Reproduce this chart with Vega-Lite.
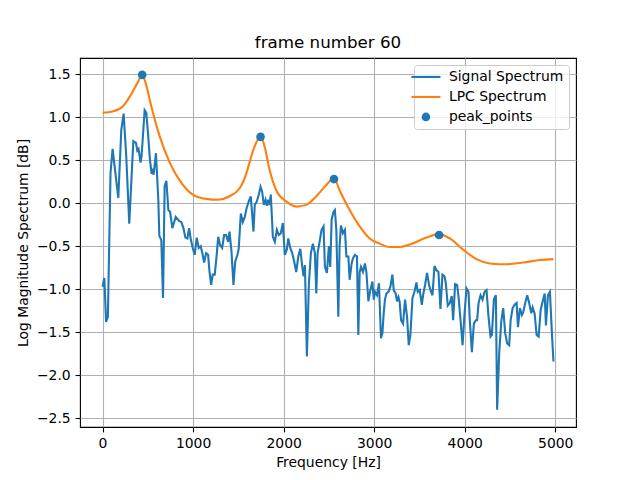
{
  "$schema": "https://vega.github.io/schema/vega-lite/v6.json",
  "width": 496,
  "height": 369,
  "autosize": {"type": "none"},
  "padding": {"left": 80, "top": 58, "right": 64, "bottom": 53},
  "background": "white",
  "title": {
    "text": "frame number 60",
    "font": "DejaVu Sans",
    "fontSize": 16.7,
    "fontWeight": "normal",
    "color": "black",
    "anchor": "middle",
    "frame": "group",
    "baseline": "bottom",
    "offset": 5,
    "dy": 16
  },
  "config": {
    "view": {"stroke": "black", "strokeWidth": 1.1},
    "axis": {
      "labelFont": "DejaVu Sans",
      "labelFontSize": 13.9,
      "labelColor": "black",
      "titleFont": "DejaVu Sans",
      "titleFontSize": 13.9,
      "titleFontWeight": "normal",
      "titleColor": "black",
      "tickColor": "black",
      "tickSize": 4.9,
      "tickWidth": 1.1,
      "labelPadding": 4.9,
      "gridColor": "#b0b0b0",
      "gridWidth": 1.1,
      "domain": false
    },
    "legend": {
      "orient": "none",
      "legendX": 334,
      "legendY": 7,
      "fillColor": "rgba(255,255,255,0.8)",
      "strokeColor": "#cccccc",
      "cornerRadius": 3,
      "padding": 5,
      "labelFont": "DejaVu Sans",
      "labelFontSize": 13.9,
      "labelColor": "black",
      "labelOffset": 16,
      "symbolType": "stroke",
      "symbolSize": 841,
      "symbolStrokeWidth": 2.1,
      "rowPadding": 5
    }
  },
  "data": {
    "values": [
      {"series": "Signal Spectrum", "f": 0, "v": -0.97},
      {"series": "Signal Spectrum", "f": 20, "v": -0.87},
      {"series": "Signal Spectrum", "f": 39, "v": -1.38},
      {"series": "Signal Spectrum", "f": 59, "v": -1.32},
      {"series": "Signal Spectrum", "f": 88, "v": 0.35},
      {"series": "Signal Spectrum", "f": 111, "v": 0.63},
      {"series": "Signal Spectrum", "f": 133, "v": 0.43},
      {"series": "Signal Spectrum", "f": 174, "v": 0.06},
      {"series": "Signal Spectrum", "f": 207, "v": 0.85},
      {"series": "Signal Spectrum", "f": 233, "v": 1.04},
      {"series": "Signal Spectrum", "f": 262, "v": 0.54},
      {"series": "Signal Spectrum", "f": 295, "v": -0.24},
      {"series": "Signal Spectrum", "f": 340, "v": 0.72},
      {"series": "Signal Spectrum", "f": 369, "v": 0.70},
      {"series": "Signal Spectrum", "f": 384, "v": 0.61},
      {"series": "Signal Spectrum", "f": 398, "v": 0.63},
      {"series": "Signal Spectrum", "f": 420, "v": 0.47},
      {"series": "Signal Spectrum", "f": 431, "v": 0.55},
      {"series": "Signal Spectrum", "f": 465, "v": 1.08},
      {"series": "Signal Spectrum", "f": 483, "v": 1.05},
      {"series": "Signal Spectrum", "f": 502, "v": 0.81},
      {"series": "Signal Spectrum", "f": 524, "v": 0.50},
      {"series": "Signal Spectrum", "f": 542, "v": 0.34},
      {"series": "Signal Spectrum", "f": 553, "v": 0.40},
      {"series": "Signal Spectrum", "f": 564, "v": 0.33},
      {"series": "Signal Spectrum", "f": 590, "v": 0.58},
      {"series": "Signal Spectrum", "f": 616, "v": 0.04},
      {"series": "Signal Spectrum", "f": 627, "v": -0.38},
      {"series": "Signal Spectrum", "f": 649, "v": -0.43},
      {"series": "Signal Spectrum", "f": 668, "v": -1.10},
      {"series": "Signal Spectrum", "f": 686, "v": 0.20},
      {"series": "Signal Spectrum", "f": 705, "v": 0.26},
      {"series": "Signal Spectrum", "f": 727, "v": -0.08},
      {"series": "Signal Spectrum", "f": 746, "v": -0.10},
      {"series": "Signal Spectrum", "f": 771, "v": -0.29},
      {"series": "Signal Spectrum", "f": 808, "v": -0.16},
      {"series": "Signal Spectrum", "f": 848, "v": -0.21},
      {"series": "Signal Spectrum", "f": 871, "v": -0.22},
      {"series": "Signal Spectrum", "f": 893, "v": -0.29},
      {"series": "Signal Spectrum", "f": 915, "v": -0.40},
      {"series": "Signal Spectrum", "f": 937, "v": -0.41},
      {"series": "Signal Spectrum", "f": 956, "v": -0.29},
      {"series": "Signal Spectrum", "f": 973, "v": -0.41},
      {"series": "Signal Spectrum", "f": 996, "v": -0.52},
      {"series": "Signal Spectrum", "f": 1018, "v": -0.60},
      {"series": "Signal Spectrum", "f": 1040, "v": -0.40},
      {"series": "Signal Spectrum", "f": 1062, "v": -0.52},
      {"series": "Signal Spectrum", "f": 1084, "v": -0.50},
      {"series": "Signal Spectrum", "f": 1106, "v": -0.60},
      {"series": "Signal Spectrum", "f": 1122, "v": -0.69},
      {"series": "Signal Spectrum", "f": 1144, "v": -0.58},
      {"series": "Signal Spectrum", "f": 1166, "v": -0.60},
      {"series": "Signal Spectrum", "f": 1180, "v": -0.78},
      {"series": "Signal Spectrum", "f": 1199, "v": -0.95},
      {"series": "Signal Spectrum", "f": 1217, "v": -0.83},
      {"series": "Signal Spectrum", "f": 1239, "v": -0.83},
      {"series": "Signal Spectrum", "f": 1261, "v": -0.60},
      {"series": "Signal Spectrum", "f": 1277, "v": -0.39},
      {"series": "Signal Spectrum", "f": 1299, "v": -0.49},
      {"series": "Signal Spectrum", "f": 1321, "v": -0.52},
      {"series": "Signal Spectrum", "f": 1343, "v": -0.37},
      {"series": "Signal Spectrum", "f": 1365, "v": -0.37},
      {"series": "Signal Spectrum", "f": 1387, "v": -0.45},
      {"series": "Signal Spectrum", "f": 1402, "v": -0.33},
      {"series": "Signal Spectrum", "f": 1424, "v": -0.56},
      {"series": "Signal Spectrum", "f": 1446, "v": -0.95},
      {"series": "Signal Spectrum", "f": 1465, "v": -0.68},
      {"series": "Signal Spectrum", "f": 1490, "v": -0.60},
      {"series": "Signal Spectrum", "f": 1504, "v": -0.53},
      {"series": "Signal Spectrum", "f": 1527, "v": -0.12},
      {"series": "Signal Spectrum", "f": 1549, "v": -0.22},
      {"series": "Signal Spectrum", "f": 1571, "v": -0.16},
      {"series": "Signal Spectrum", "f": 1593, "v": -0.05},
      {"series": "Signal Spectrum", "f": 1615, "v": 0.02},
      {"series": "Signal Spectrum", "f": 1637, "v": 0.08},
      {"series": "Signal Spectrum", "f": 1667, "v": -0.33},
      {"series": "Signal Spectrum", "f": 1681, "v": -0.02},
      {"series": "Signal Spectrum", "f": 1704, "v": 0.02},
      {"series": "Signal Spectrum", "f": 1726, "v": 0.10},
      {"series": "Signal Spectrum", "f": 1745, "v": 0.19},
      {"series": "Signal Spectrum", "f": 1763, "v": 0.13},
      {"series": "Signal Spectrum", "f": 1781, "v": -0.02},
      {"series": "Signal Spectrum", "f": 1800, "v": 0.04},
      {"series": "Signal Spectrum", "f": 1814, "v": -0.03},
      {"series": "Signal Spectrum", "f": 1830, "v": 0.04},
      {"series": "Signal Spectrum", "f": 1844, "v": -0.02},
      {"series": "Signal Spectrum", "f": 1858, "v": 0.10},
      {"series": "Signal Spectrum", "f": 1881, "v": -0.39},
      {"series": "Signal Spectrum", "f": 1903, "v": -0.45},
      {"series": "Signal Spectrum", "f": 1925, "v": -0.31},
      {"series": "Signal Spectrum", "f": 1947, "v": -0.37},
      {"series": "Signal Spectrum", "f": 1969, "v": -0.35},
      {"series": "Signal Spectrum", "f": 1991, "v": -0.23},
      {"series": "Signal Spectrum", "f": 2013, "v": -0.60},
      {"series": "Signal Spectrum", "f": 2035, "v": -0.54},
      {"series": "Signal Spectrum", "f": 2051, "v": -0.41},
      {"series": "Signal Spectrum", "f": 2073, "v": -0.52},
      {"series": "Signal Spectrum", "f": 2095, "v": -0.58},
      {"series": "Signal Spectrum", "f": 2117, "v": -0.68},
      {"series": "Signal Spectrum", "f": 2139, "v": -0.80},
      {"series": "Signal Spectrum", "f": 2162, "v": -0.62},
      {"series": "Signal Spectrum", "f": 2184, "v": -0.53},
      {"series": "Signal Spectrum", "f": 2206, "v": -0.74},
      {"series": "Signal Spectrum", "f": 2220, "v": -0.85},
      {"series": "Signal Spectrum", "f": 2235, "v": -0.72},
      {"series": "Signal Spectrum", "f": 2257, "v": -1.78},
      {"series": "Signal Spectrum", "f": 2279, "v": -0.93},
      {"series": "Signal Spectrum", "f": 2301, "v": -0.58},
      {"series": "Signal Spectrum", "f": 2323, "v": -0.47},
      {"series": "Signal Spectrum", "f": 2345, "v": -0.58},
      {"series": "Signal Spectrum", "f": 2361, "v": -1.05},
      {"series": "Signal Spectrum", "f": 2375, "v": -0.58},
      {"series": "Signal Spectrum", "f": 2397, "v": -0.45},
      {"series": "Signal Spectrum", "f": 2419, "v": -0.31},
      {"series": "Signal Spectrum", "f": 2441, "v": -0.27},
      {"series": "Signal Spectrum", "f": 2456, "v": -0.74},
      {"series": "Signal Spectrum", "f": 2478, "v": -0.81},
      {"series": "Signal Spectrum", "f": 2500, "v": -0.50},
      {"series": "Signal Spectrum", "f": 2515, "v": -0.74},
      {"series": "Signal Spectrum", "f": 2530, "v": -0.19},
      {"series": "Signal Spectrum", "f": 2552, "v": -0.10},
      {"series": "Signal Spectrum", "f": 2566, "v": -0.08},
      {"series": "Signal Spectrum", "f": 2582, "v": -0.31},
      {"series": "Signal Spectrum", "f": 2604, "v": -1.32},
      {"series": "Signal Spectrum", "f": 2618, "v": -0.50},
      {"series": "Signal Spectrum", "f": 2633, "v": -0.26},
      {"series": "Signal Spectrum", "f": 2655, "v": -0.35},
      {"series": "Signal Spectrum", "f": 2677, "v": -0.31},
      {"series": "Signal Spectrum", "f": 2693, "v": -0.62},
      {"series": "Signal Spectrum", "f": 2715, "v": -0.62},
      {"series": "Signal Spectrum", "f": 2729, "v": -0.89},
      {"series": "Signal Spectrum", "f": 2751, "v": -0.70},
      {"series": "Signal Spectrum", "f": 2766, "v": -0.64},
      {"series": "Signal Spectrum", "f": 2788, "v": -0.60},
      {"series": "Signal Spectrum", "f": 2810, "v": -0.62},
      {"series": "Signal Spectrum", "f": 2825, "v": -1.53},
      {"series": "Signal Spectrum", "f": 2840, "v": -0.80},
      {"series": "Signal Spectrum", "f": 2854, "v": -0.74},
      {"series": "Signal Spectrum", "f": 2876, "v": -0.80},
      {"series": "Signal Spectrum", "f": 2898, "v": -0.70},
      {"series": "Signal Spectrum", "f": 2914, "v": -0.80},
      {"series": "Signal Spectrum", "f": 2936, "v": -1.14},
      {"series": "Signal Spectrum", "f": 2958, "v": -1.01},
      {"series": "Signal Spectrum", "f": 2980, "v": -0.91},
      {"series": "Signal Spectrum", "f": 2995, "v": -1.12},
      {"series": "Signal Spectrum", "f": 3009, "v": -1.03},
      {"series": "Signal Spectrum", "f": 3031, "v": -1.07},
      {"series": "Signal Spectrum", "f": 3053, "v": -0.93},
      {"series": "Signal Spectrum", "f": 3075, "v": -1.57},
      {"series": "Signal Spectrum", "f": 3091, "v": -1.51},
      {"series": "Signal Spectrum", "f": 3105, "v": -1.28},
      {"series": "Signal Spectrum", "f": 3119, "v": -1.12},
      {"series": "Signal Spectrum", "f": 3135, "v": -1.05},
      {"series": "Signal Spectrum", "f": 3157, "v": -1.03},
      {"series": "Signal Spectrum", "f": 3179, "v": -0.97},
      {"series": "Signal Spectrum", "f": 3201, "v": -0.83},
      {"series": "Signal Spectrum", "f": 3216, "v": -1.01},
      {"series": "Signal Spectrum", "f": 3238, "v": -1.05},
      {"series": "Signal Spectrum", "f": 3252, "v": -1.14},
      {"series": "Signal Spectrum", "f": 3268, "v": -1.09},
      {"series": "Signal Spectrum", "f": 3282, "v": -1.15},
      {"series": "Signal Spectrum", "f": 3297, "v": -1.36},
      {"series": "Signal Spectrum", "f": 3319, "v": -1.40},
      {"series": "Signal Spectrum", "f": 3341, "v": -1.12},
      {"series": "Signal Spectrum", "f": 3363, "v": -1.32},
      {"series": "Signal Spectrum", "f": 3382, "v": -1.65},
      {"series": "Signal Spectrum", "f": 3400, "v": -1.53},
      {"series": "Signal Spectrum", "f": 3423, "v": -1.10},
      {"series": "Signal Spectrum", "f": 3445, "v": -1.03},
      {"series": "Signal Spectrum", "f": 3467, "v": -0.92},
      {"series": "Signal Spectrum", "f": 3481, "v": -1.03},
      {"series": "Signal Spectrum", "f": 3503, "v": -1.01},
      {"series": "Signal Spectrum", "f": 3526, "v": -1.18},
      {"series": "Signal Spectrum", "f": 3540, "v": -1.07},
      {"series": "Signal Spectrum", "f": 3562, "v": -0.95},
      {"series": "Signal Spectrum", "f": 3584, "v": -0.81},
      {"series": "Signal Spectrum", "f": 3606, "v": -0.95},
      {"series": "Signal Spectrum", "f": 3628, "v": -1.03},
      {"series": "Signal Spectrum", "f": 3644, "v": -1.07},
      {"series": "Signal Spectrum", "f": 3666, "v": -0.73},
      {"series": "Signal Spectrum", "f": 3688, "v": -0.78},
      {"series": "Signal Spectrum", "f": 3710, "v": -0.80},
      {"series": "Signal Spectrum", "f": 3732, "v": -1.23},
      {"series": "Signal Spectrum", "f": 3754, "v": -0.83},
      {"series": "Signal Spectrum", "f": 3777, "v": -0.85},
      {"series": "Signal Spectrum", "f": 3791, "v": -0.93},
      {"series": "Signal Spectrum", "f": 3813, "v": -1.19},
      {"series": "Signal Spectrum", "f": 3835, "v": -1.16},
      {"series": "Signal Spectrum", "f": 3857, "v": -1.08},
      {"series": "Signal Spectrum", "f": 3872, "v": -1.36},
      {"series": "Signal Spectrum", "f": 3894, "v": -0.94},
      {"series": "Signal Spectrum", "f": 3916, "v": -0.95},
      {"series": "Signal Spectrum", "f": 3932, "v": -1.09},
      {"series": "Signal Spectrum", "f": 3954, "v": -1.36},
      {"series": "Signal Spectrum", "f": 3976, "v": -1.65},
      {"series": "Signal Spectrum", "f": 3998, "v": -1.28},
      {"series": "Signal Spectrum", "f": 4020, "v": -0.99},
      {"series": "Signal Spectrum", "f": 4042, "v": -1.03},
      {"series": "Signal Spectrum", "f": 4056, "v": -1.36},
      {"series": "Signal Spectrum", "f": 4079, "v": -1.73},
      {"series": "Signal Spectrum", "f": 4101, "v": -1.40},
      {"series": "Signal Spectrum", "f": 4123, "v": -1.36},
      {"series": "Signal Spectrum", "f": 4137, "v": -1.36},
      {"series": "Signal Spectrum", "f": 4153, "v": -1.16},
      {"series": "Signal Spectrum", "f": 4175, "v": -1.07},
      {"series": "Signal Spectrum", "f": 4197, "v": -1.12},
      {"series": "Signal Spectrum", "f": 4219, "v": -1.03},
      {"series": "Signal Spectrum", "f": 4241, "v": -1.01},
      {"series": "Signal Spectrum", "f": 4263, "v": -1.32},
      {"series": "Signal Spectrum", "f": 4285, "v": -1.55},
      {"series": "Signal Spectrum", "f": 4300, "v": -1.53},
      {"series": "Signal Spectrum", "f": 4322, "v": -1.12},
      {"series": "Signal Spectrum", "f": 4344, "v": -1.07},
      {"series": "Signal Spectrum", "f": 4358, "v": -2.40},
      {"series": "Signal Spectrum", "f": 4381, "v": -1.74},
      {"series": "Signal Spectrum", "f": 4403, "v": -1.38},
      {"series": "Signal Spectrum", "f": 4425, "v": -1.22},
      {"series": "Signal Spectrum", "f": 4447, "v": -1.51},
      {"series": "Signal Spectrum", "f": 4469, "v": -1.63},
      {"series": "Signal Spectrum", "f": 4491, "v": -1.65},
      {"series": "Signal Spectrum", "f": 4507, "v": -1.36},
      {"series": "Signal Spectrum", "f": 4529, "v": -1.22},
      {"series": "Signal Spectrum", "f": 4551, "v": -1.18},
      {"series": "Signal Spectrum", "f": 4573, "v": -1.16},
      {"series": "Signal Spectrum", "f": 4588, "v": -1.44},
      {"series": "Signal Spectrum", "f": 4610, "v": -1.22},
      {"series": "Signal Spectrum", "f": 4632, "v": -1.30},
      {"series": "Signal Spectrum", "f": 4646, "v": -1.27},
      {"series": "Signal Spectrum", "f": 4668, "v": -1.16},
      {"series": "Signal Spectrum", "f": 4690, "v": -1.07},
      {"series": "Signal Spectrum", "f": 4712, "v": -1.16},
      {"series": "Signal Spectrum", "f": 4735, "v": -1.28},
      {"series": "Signal Spectrum", "f": 4750, "v": -1.21},
      {"series": "Signal Spectrum", "f": 4772, "v": -1.28},
      {"series": "Signal Spectrum", "f": 4794, "v": -1.53},
      {"series": "Signal Spectrum", "f": 4816, "v": -1.55},
      {"series": "Signal Spectrum", "f": 4839, "v": -1.24},
      {"series": "Signal Spectrum", "f": 4861, "v": -1.14},
      {"series": "Signal Spectrum", "f": 4883, "v": -1.05},
      {"series": "Signal Spectrum", "f": 4897, "v": -1.42},
      {"series": "Signal Spectrum", "f": 4919, "v": -1.07},
      {"series": "Signal Spectrum", "f": 4941, "v": -1.03},
      {"series": "Signal Spectrum", "f": 4963, "v": -1.51},
      {"series": "Signal Spectrum", "f": 4980, "v": -1.84},
      {"series": "LPC Spectrum", "f": 0, "v": 1.05},
      {"series": "LPC Spectrum", "f": 111, "v": 1.065},
      {"series": "LPC Spectrum", "f": 221, "v": 1.12},
      {"series": "LPC Spectrum", "f": 314, "v": 1.26},
      {"series": "LPC Spectrum", "f": 387, "v": 1.40},
      {"series": "LPC Spectrum", "f": 438, "v": 1.49},
      {"series": "LPC Spectrum", "f": 480, "v": 1.38},
      {"series": "LPC Spectrum", "f": 535, "v": 1.14},
      {"series": "LPC Spectrum", "f": 627, "v": 0.79},
      {"series": "LPC Spectrum", "f": 738, "v": 0.48},
      {"series": "LPC Spectrum", "f": 848, "v": 0.27},
      {"series": "LPC Spectrum", "f": 996, "v": 0.10},
      {"series": "LPC Spectrum", "f": 1144, "v": 0.05},
      {"series": "LPC Spectrum", "f": 1272, "v": 0.04},
      {"series": "LPC Spectrum", "f": 1402, "v": 0.08},
      {"series": "LPC Spectrum", "f": 1512, "v": 0.17},
      {"series": "LPC Spectrum", "f": 1550, "v": 0.24},
      {"series": "LPC Spectrum", "f": 1595, "v": 0.37},
      {"series": "LPC Spectrum", "f": 1659, "v": 0.60},
      {"series": "LPC Spectrum", "f": 1715, "v": 0.74},
      {"series": "LPC Spectrum", "f": 1745, "v": 0.78},
      {"series": "LPC Spectrum", "f": 1789, "v": 0.66},
      {"series": "LPC Spectrum", "f": 1844, "v": 0.39},
      {"series": "LPC Spectrum", "f": 1918, "v": 0.15},
      {"series": "LPC Spectrum", "f": 2029, "v": 0.02},
      {"series": "LPC Spectrum", "f": 2139, "v": -0.04},
      {"series": "LPC Spectrum", "f": 2250, "v": -0.02},
      {"series": "LPC Spectrum", "f": 2361, "v": 0.08},
      {"series": "LPC Spectrum", "f": 2471, "v": 0.21},
      {"series": "LPC Spectrum", "f": 2556, "v": 0.29},
      {"series": "LPC Spectrum", "f": 2618, "v": 0.15},
      {"series": "LPC Spectrum", "f": 2729, "v": -0.08},
      {"series": "LPC Spectrum", "f": 2840, "v": -0.27},
      {"series": "LPC Spectrum", "f": 2950, "v": -0.41},
      {"series": "LPC Spectrum", "f": 3061, "v": -0.47},
      {"series": "LPC Spectrum", "f": 3171, "v": -0.51},
      {"series": "LPC Spectrum", "f": 3282, "v": -0.51},
      {"series": "LPC Spectrum", "f": 3393, "v": -0.48},
      {"series": "LPC Spectrum", "f": 3578, "v": -0.40},
      {"series": "LPC Spectrum", "f": 3717, "v": -0.36},
      {"series": "LPC Spectrum", "f": 3835, "v": -0.41},
      {"series": "LPC Spectrum", "f": 3983, "v": -0.54},
      {"series": "LPC Spectrum", "f": 4130, "v": -0.65},
      {"series": "LPC Spectrum", "f": 4278, "v": -0.70},
      {"series": "LPC Spectrum", "f": 4462, "v": -0.71},
      {"series": "LPC Spectrum", "f": 4646, "v": -0.69},
      {"series": "LPC Spectrum", "f": 4831, "v": -0.66},
      {"series": "LPC Spectrum", "f": 4980, "v": -0.65},
      {"series": "peak_points", "f": 438, "v": 1.49},
      {"series": "peak_points", "f": 1745, "v": 0.77},
      {"series": "peak_points", "f": 2556, "v": 0.28},
      {"series": "peak_points", "f": 3717, "v": -0.37}
    ]
  },
  "encoding": {
    "x": {
      "field": "f",
      "type": "quantitative",
      "scale": {"domain": [-249, 5229], "nice": false, "zero": false},
      "axis": {"title": "Frequency [Hz]", "values": [0, 1000, 2000, 3000, 4000, 5000], "format": "d", "titlePadding": 5}
    },
    "y": {
      "field": "v",
      "type": "quantitative",
      "scale": {"domain": [-2.6, 1.686], "nice": false, "zero": false},
      "axis": {
        "title": "Log Magnitude Spectrum [dB]",
        "values": [-2.5, -2, -1.5, -1, -0.5, 0, 0.5, 1, 1.5],
        "labelExpr": "replace(format(datum.value, '.1f'), '-', '−')",
        "titlePadding": 6
      }
    },
    "color": {
      "field": "series",
      "type": "nominal",
      "scale": {
        "domain": ["Signal Spectrum", "LPC Spectrum", "peak_points"],
        "range": ["#1f77b4", "#ff7f0e", "#1f77b4"]
      },
      "legend": {
        "title": null,
        "encode": {
          "symbols": {
            "update": {
              "shape": {"signal": "datum.value === 'peak_points' ? 'circle' : 'stroke'"},
              "size": {"signal": "datum.value === 'peak_points' ? 75 : 841"},
              "fill": {"signal": "datum.value === 'peak_points' ? '#1f77b4' : 'transparent'"},
              "strokeWidth": {"signal": "datum.value === 'peak_points' ? 0 : 2.1"}
            }
          }
        }
      }
    }
  },
  "layer": [
    {
      "transform": [{"filter": "datum.series === 'Signal Spectrum'"}],
      "mark": {"type": "line", "strokeWidth": 2.1, "clip": true}
    },
    {
      "transform": [{"filter": "datum.series === 'LPC Spectrum'"}],
      "mark": {"type": "line", "strokeWidth": 2.1, "interpolate": "monotone", "clip": true}
    },
    {
      "transform": [{"filter": "datum.series === 'peak_points'"}],
      "mark": {"type": "point", "filled": true, "size": 75, "opacity": 1}
    }
  ]
}
